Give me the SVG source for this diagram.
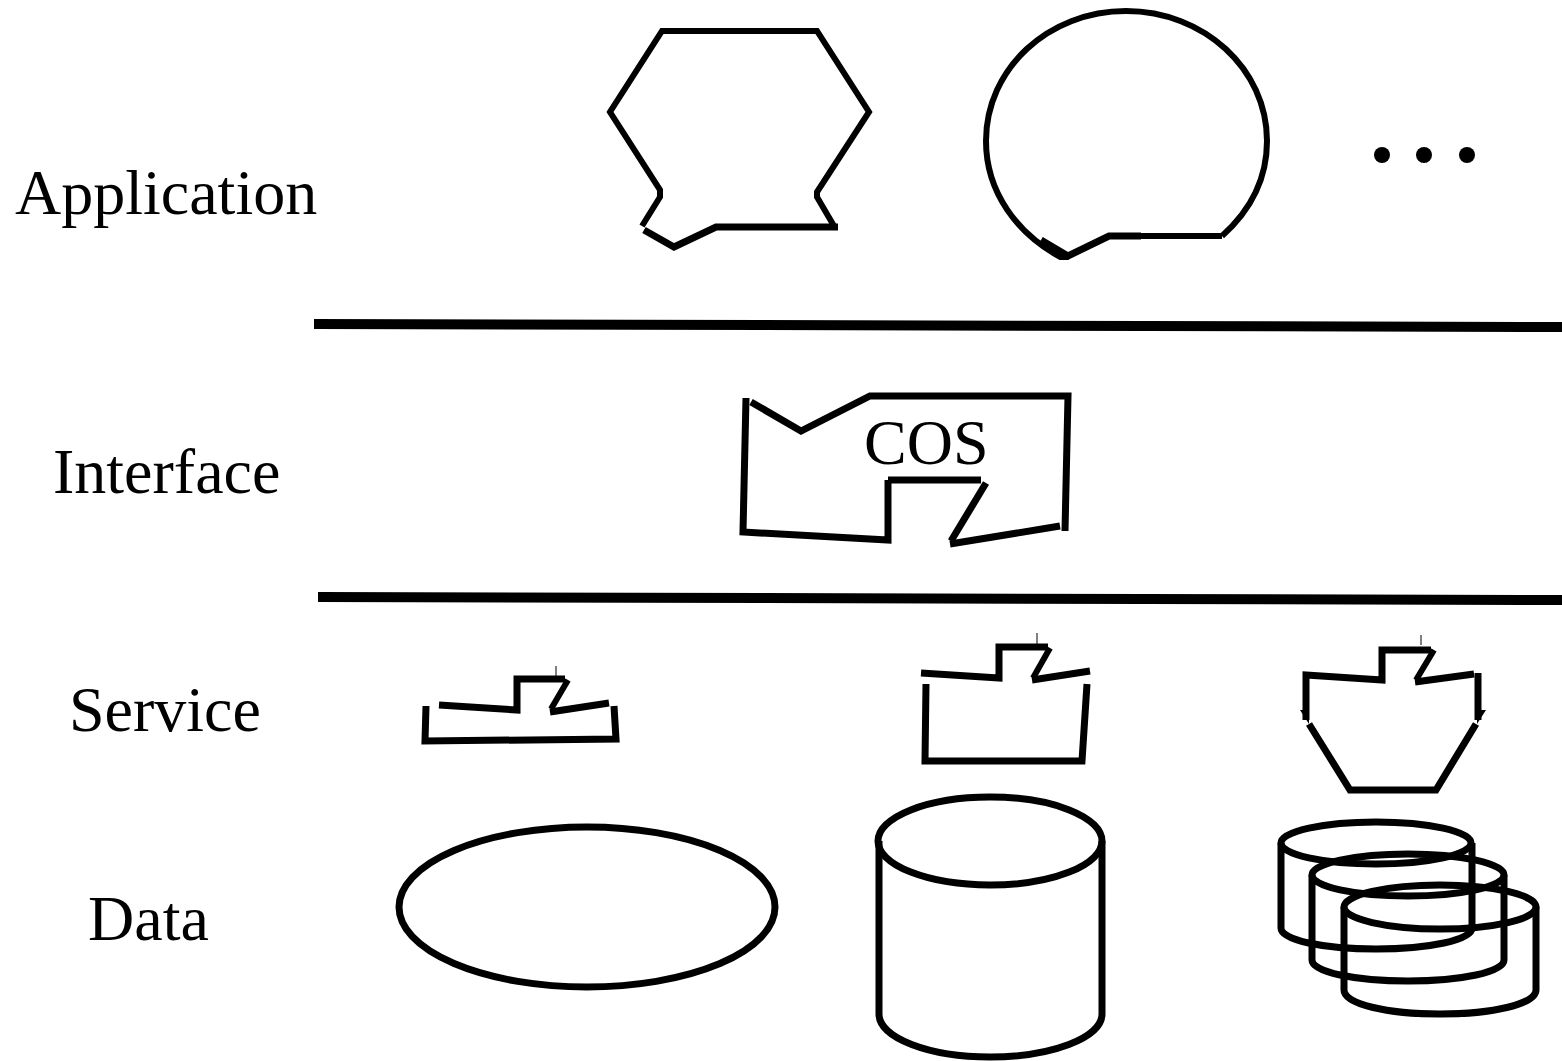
<svg xmlns="http://www.w3.org/2000/svg" width="1562" height="1061" viewBox="0 0 1562 1061">
<style>
.s{fill:none;stroke:#000;stroke-width:7;stroke-linejoin:miter}
.n{fill:none;stroke:#000;stroke-width:6;stroke-linejoin:bevel}
.t{fill:none;stroke:#000;stroke-width:6}
.h{fill:none;stroke:#000;stroke-width:1}
.l{font-family:"Liberation Serif","Times New Roman",serif;font-size:64px;fill:#000}
</style>
<defs><clipPath id="c1"><rect x="970" y="0" width="310" height="260"/></clipPath></defs>
<rect width="1562" height="1061" fill="#fff"/>
<g id="labels">
<text class="l" x="15" y="214">Application</text>
<text class="l" x="53" y="493">Interface</text>
<text class="l" x="69" y="731">Service</text>
<text class="l" x="88" y="940">Data</text>
</g>
<g id="dividers">
<path d="M314 324L1562 327" fill="none" stroke="#000" stroke-width="10"/>
<path d="M318 597L1562 600" fill="none" stroke="#000" stroke-width="10"/>
</g>
<g id="app1">
<path class="t" d="M642 226L660 197V190L610 112L662 31H817L869 112L817 192V197L834 226"/>
<path class="s" d="M644 230L674 247L716 227H838"/>
</g>
<g id="app2">
<path class="t" clip-path="url(#c1)" d="M1222 236C1251 210 1267 178 1267 141C1267 69 1204 11 1126 11C1048 11 986 69 986 141C986 190 1015 235 1068 261"/>
<path class="s" clip-path="url(#c1)" d="M1041 240L1068 256L1109 236H1141"/>
<path class="t" d="M1109 236H1222"/>
</g>
<g id="ellipsis" fill="#000">
<circle cx="1382" cy="155" r="8"/>
<circle cx="1424" cy="155" r="8"/>
<circle cx="1467" cy="155" r="8"/>
</g>
<g id="cos">
<path class="s" d="M746 398L743 532L888 540V480"/>
<path class="s" d="M888 480H981"/>
<path class="s" d="M986 483L951 541"/>
<path class="s" d="M950 544L1060 526"/>
<path class="s" d="M1065 531L1068 396H870L801 431L751 402"/>
<text x="864" y="464" font-family="'Liberation Serif','Times New Roman',serif" font-size="64" fill="#000">COS</text>
</g>
<g id="service1">
<path class="s" d="M439 705L517 710V679H565"/>
<path class="n" d="M568 680L551 709"/>
<path class="s" d="M550 712L609 703"/>
<path class="s" d="M426 706L425 741L616 739L614 706"/>
<path class="h" d="M556 666V676"/>
</g>
<g id="service2">
<path class="s" d="M921 673L999 678V647H1048"/>
<path class="n" d="M1050 648L1033 678"/>
<path class="s" d="M1032 680L1090 671"/>
<path class="s" d="M926 684L925 761H1082L1087 684"/>
<path class="h" d="M1037 633V645"/>
</g>
<g id="service3">
<path class="s" d="M1306 720V675L1382 680V650H1431"/>
<path class="n" d="M1434 650L1416 680"/>
<path class="s" d="M1415 682L1474 674"/>
<path class="s" d="M1478 673V720"/>
<path class="s" d="M1309 724L1350 790H1436L1476 724"/>
<path d="M1300 710H1309V724ZM1486 710H1477V724Z" fill="#000"/>
<path class="h" d="M1421 635V645"/>
</g>
<g id="data1">
<ellipse class="s" cx="587" cy="907" rx="188" ry="80"/>
</g>
<g id="data2">
<ellipse class="s" cx="990" cy="841" rx="112" ry="44"/>
<path class="s" d="M879 841V1014C879 1038 929 1057 990 1057C1051 1057 1102 1038 1102 1014V841"/>
</g>
<g id="data3">
<ellipse class="s" cx="1376" cy="843" rx="95" ry="21"/>
<path class="s" d="M1281 843V928C1281 940 1323 949 1376 949C1429 949 1472 940 1472 928V843"/>
<ellipse class="s" cx="1408" cy="875" rx="96" ry="21"/>
<path class="s" d="M1312 875V960C1312 972 1355 981 1408 981C1461 981 1504 972 1504 960V875"/>
<ellipse class="s" cx="1440" cy="907" rx="96" ry="22"/>
<path class="s" d="M1344 907V990C1344 1004 1387 1014 1440 1014C1493 1014 1536 1004 1536 990V907"/>
</g>
</svg>
